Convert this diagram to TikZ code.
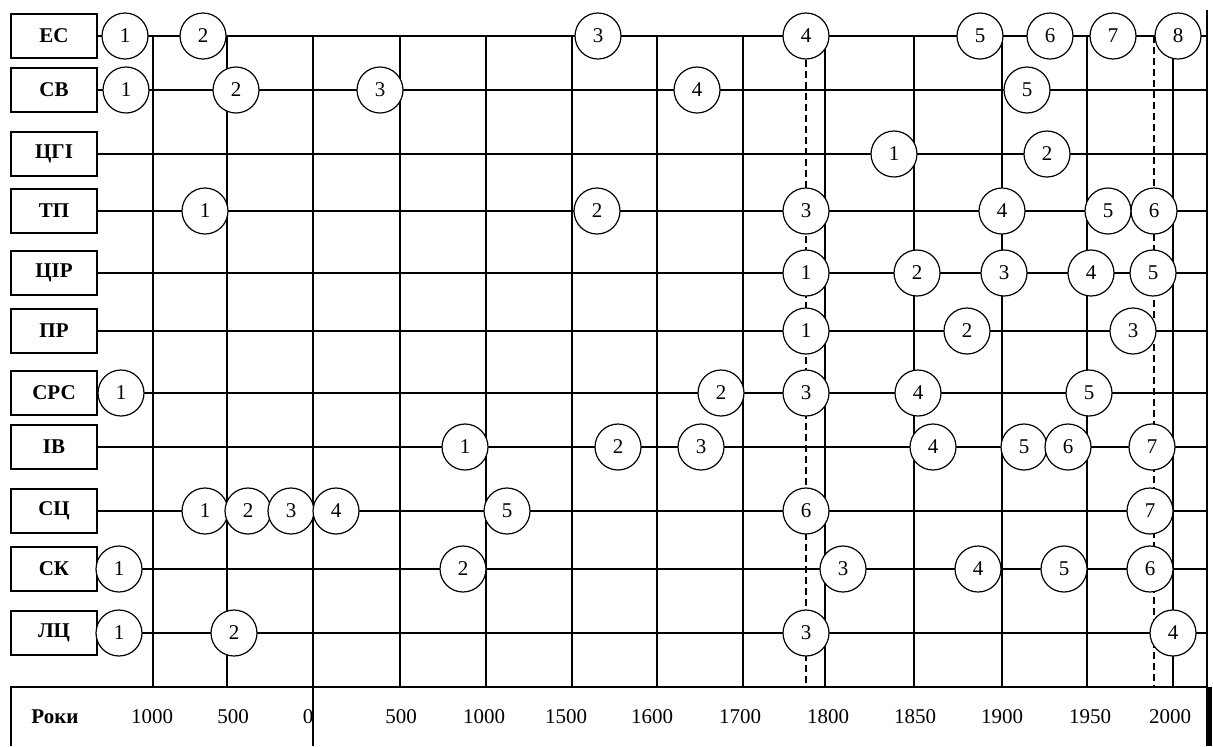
\documentclass[tikz,border=0pt]{standalone}
\usepackage{fontspec}
\setmainfont{Liberation Serif}
\usetikzlibrary{backgrounds}
\tikzset{
  lbl/.style={draw, line width=0.8pt, minimum width=43pt, minimum height=22pt, inner sep=0pt, font=\fontsize{10.5}{12}\selectfont\bfseries},
  ev/.style={circle, draw, fill=white, minimum size=23pt, inner sep=0pt, line width=0.6pt, font=\fontsize{10.5}{12}\selectfont},
  gridline/.style={line width=0.65pt},
  dashline/.style={line width=0.65pt, dash pattern=on 3.5pt off 2pt},
  axlbl/.style={font=\fontsize{10.5}{12}\selectfont, inner sep=0pt}
}
\begin{document}
\begin{tikzpicture}[x=0.5pt,y=-0.5pt]
\useasboundingbox (0,0) rectangle (1213,746);
% row labels
\foreach \n/\t/\y in {ec/ЕС/36, cv/СВ/90, cgi/ЦГІ/154, tp/ТП/211, cir/ЦІР/273, pr/ПР/331, srs/СРС/393, iv/ІВ/447, sc/СЦ/511, sk/СК/569, lc/ЛЦ/633}{
  \node[lbl] (\n) at (54,\y) {\t};
  \coordinate (\n-e) at (1206,\y);
}
% events
\foreach \i/\x in {1/125,2/203,3/598,4/806,5/980,6/1050,7/1113,8/1178}{\node[ev] (ec\i) at (\x,36) {\i};}
\foreach \i/\x in {1/126,2/236,3/380,4/697,5/1027}{\node[ev] (cv\i) at (\x,90) {\i};}
\foreach \i/\x in {1/894,2/1047}{\node[ev] (cgi\i) at (\x,154) {\i};}
\foreach \i/\x in {1/205,2/597,3/806,4/1002,5/1108,6/1154}{\node[ev] (tp\i) at (\x,211) {\i};}
\foreach \i/\x in {1/806,2/917,3/1004,4/1091,5/1153}{\node[ev] (cir\i) at (\x,273) {\i};}
\foreach \i/\x in {1/806,2/967,3/1133}{\node[ev] (pr\i) at (\x,331) {\i};}
\foreach \i/\x in {1/121,2/721,3/806,4/918,5/1089}{\node[ev] (srs\i) at (\x,393) {\i};}
\foreach \i/\x in {1/465,2/618,3/701,4/933,5/1024,6/1068,7/1152}{\node[ev] (iv\i) at (\x,447) {\i};}
\foreach \i/\x in {1/205,2/248,3/291,4/336,5/507,6/806,7/1150}{\node[ev] (sc\i) at (\x,511) {\i};}
\foreach \i/\x in {1/119,2/463,3/843,4/978,5/1064,6/1150}{\node[ev] (sk\i) at (\x,569) {\i};}
\foreach \i/\x in {1/119,2/234,3/806,4/1173}{\node[ev] (lc\i) at (\x,633) {\i};}
% axis labels
\node[axlbl, font=\fontsize{10.5}{12}\selectfont\bfseries] (roky) at (55,717) {Роки};
\foreach \k/\t/\x in {a/1000/152, b/500/233, c/0/308, d/500/401, e/1000/484, f/1500/566, g/1600/652, h/1700/740, i/1800/828, j/1850/915, k/1900/1002, l/1950/1090, m/2000/1170}{
  \node[axlbl] (ax\k) at (\x,717) {\t};
}
% grid coordinates
\foreach \k/\x in {a/153, b/227, d/400, e/486, f/572, g/657, h/743, i/825, j/914, k/1002, l/1087, m/1173}{
  \coordinate (v\k-t) at (\x,36);
  \coordinate (v\k-b) at (\x,687);
}
\coordinate (zero-t) at (313,36);
\coordinate (zero-b) at (313,746);
\coordinate (d1-b) at (806,687);
\coordinate (d2-t) at (1154,36);
\coordinate (d2-b) at (1154,687);
\coordinate (fr-t) at (1207,10);
\coordinate (fr-b) at (1207,687);
\coordinate (th-t) at (1208.5,687);
\coordinate (th-b) at (1208.5,746);
\coordinate (bx-tl) at (11,687);
\coordinate (bx-bl) at (11,746);
\begin{pgfonlayer}{background}
  \foreach \n in {ec, cv, cgi, tp, cir, pr, srs, iv, sc, sk, lc}{\draw[gridline] (\n) -- (\n-e);}
  \foreach \k in {a, b, d, e, f, g, h, i, j, k, l, m}{\draw[gridline] (v\k-t) -- (v\k-b);}
  \draw[gridline] (zero-t) -- (zero-b);
  \draw[dashline] (ec4) -- (d1-b);
  \draw[dashline] (d2-t) -- (d2-b);
  \draw[gridline] (fr-t) -- (fr-b);
  \draw[line width=3pt] (th-t) -- (th-b);
  \draw[gridline] (bx-bl) -- (bx-tl) -- (fr-b);
\end{pgfonlayer}
\end{tikzpicture}
\end{document}
